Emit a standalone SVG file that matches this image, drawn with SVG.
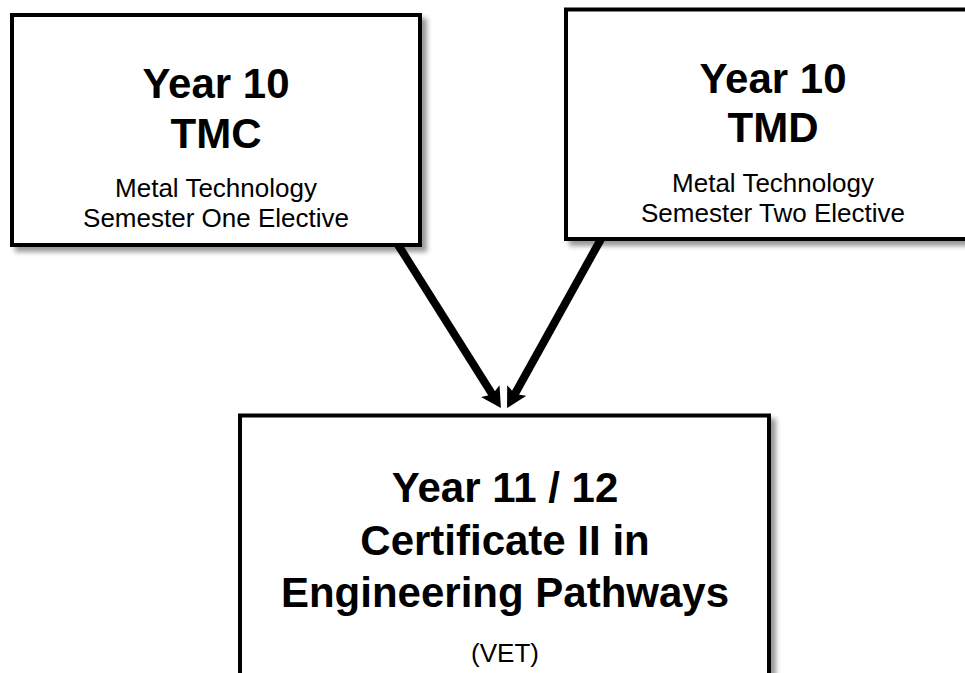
<svg xmlns="http://www.w3.org/2000/svg" width="965" height="673" viewBox="0 0 965 673">
  <style>
    .box { fill: #ffffff; stroke: #000000; stroke-width: 4; filter: url(#shadow); }
    .title { font-family: "Liberation Sans", Arial, sans-serif; font-weight: bold; font-size: 42px; fill: #000; text-anchor: middle; }
    .sub { font-family: "Liberation Sans", Arial, sans-serif; font-size: 26px; fill: #000; text-anchor: middle; }
    .conn { fill: none; stroke: #000; stroke-width: 8; marker-end: url(#arrow); }
  </style>
  <defs>
    <filter id="shadow" x="-10%" y="-10%" width="130%" height="130%">
      <feDropShadow dx="5" dy="5" stdDeviation="2.5" flood-color="#000" flood-opacity="0.4"/>
    </filter>
    <marker id="arrow" viewBox="0 0 20 22" refX="8" refY="11" markerWidth="20" markerHeight="22" markerUnits="userSpaceOnUse" orient="auto">
      <path d="M0,0 L20,11 L0,22 L4,11 z" fill="#000"/>
    </marker>
  </defs>
  <rect width="965" height="673" fill="#ffffff"/>
  <g id="connectors">
    <path class="conn" d="M397.5,244 L494.5,397.9"/>
    <path class="conn" d="M601,239 L512.9,397.5"/>
  </g>
  <g id="node-tmc">
    <rect class="box" x="12" y="15" width="408" height="230"/>
    <text class="title" x="216" y="98">Year 10</text>
    <text class="title" x="216" y="148">TMC</text>
    <text class="sub" x="216" y="197">Metal Technology</text>
    <text class="sub" x="216" y="227">Semester One Elective</text>
  </g>
  <g id="node-tmd">
    <rect class="box" x="566" y="9.5" width="414" height="229.5"/>
    <text class="title" x="773" y="93">Year 10</text>
    <text class="title" x="773" y="142">TMD</text>
    <text class="sub" x="773" y="192">Metal Technology</text>
    <text class="sub" x="773" y="222">Semester Two Elective</text>
  </g>
  <g id="node-vet">
    <rect class="box" x="240" y="415.5" width="529" height="300"/>
    <text class="title" x="505" y="502">Year 11 / 12</text>
    <text class="title" x="505" y="555">Certificate II in</text>
    <text class="title" x="505" y="607">Engineering Pathways</text>
    <text class="sub" x="505" y="662">(VET)</text>
  </g>
</svg>
